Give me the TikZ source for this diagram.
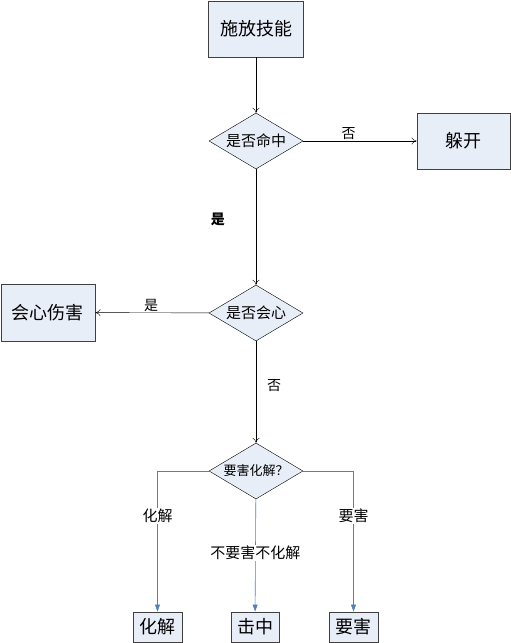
\documentclass[tikz,border=0pt]{standalone}
\usepackage{fontspec}
\newfontfamily\cjk{Noto Sans CJK SC}
\usetikzlibrary{shapes.geometric,arrows.meta,positioning}
\definecolor{boxfill}{HTML}{E8EEF7}
\definecolor{flowblue}{HTML}{4F81BD}

\begin{document}
\begin{tikzpicture}[
      x=1pt,y=-1pt,
      box/.style={draw=black!75,line width=0.9pt,fill=boxfill,inner sep=0pt,font=\cjk\fontsize{18}{18}\selectfont},
      smallbox/.style={box,minimum width=49pt,minimum height=30pt},
      test/.style={diamond,draw,thin,fill=boxfill,inner sep=0pt,aspect=1.68,minimum width=94pt,minimum height=56pt,font=\cjk\fontsize{15}{15}\selectfont},
      lab/.style={text=black,font=\cjk\fontsize{14}{14}\selectfont,inner sep=1pt},
      flow/.style={thin,-{To[length=5pt,width=7pt]}},
      bflow/.style={flowblue,semithick,-{Triangle[length=7pt,width=5pt]}},
      ]
      \useasboundingbox (0,0) rectangle (511,643);
      \def\mx{256}
      \def\lx{157.5}
      \def\rx{353.5}

      \node[box,minimum width=95pt,minimum height=56pt] (skill) at (\mx,29) {施放技能};
      \node[test] (hit) at (\mx,141) {是否命中};
      \node[box,minimum width=93pt,minimum height=56pt] (dodge) at (463.5,141) {躲开};
      \node[test] (crit) at (\mx,313) {是否会心};
      \node[box,minimum width=94pt,minimum height=57pt] (critdmg) at (48,312.5) {会心伤害};
      \node[test,font=\cjk\fontsize{13}{13}\selectfont] (pick) at (\mx,471) {要害化解？};
      \node[smallbox] (fix) at (\lx,627) {化解};
      \node[smallbox,minimum width=48pt] (plain) at (255,627) {击中};
      \node[smallbox] (vital) at (\rx,627) {要害};

      \draw[flow] (skill) -- (hit);
      \draw[flow] (hit) -- node[lab,above,pos=0.4] {否} (dodge);
      \draw[flow] (hit) -- node[lab,left=30pt,pos=0.43,font=\cjk\bfseries\fontsize{14}{14}\selectfont] {是} (crit);
      \draw[flow] (crit) -- node[lab,above,pos=0.51] {是} (critdmg);
      \draw[flow] (crit) -- node[lab,right=10pt,pos=0.44] {否} (pick);

      \draw[bflow] (pick.west) -| node[lab,fill=white,pos=0.66,font=\cjk\fontsize{15}{15}\selectfont] {化解} (fix.north);
      \draw[bflow] (pick) -- node[lab,fill=white,pos=0.48,font=\cjk\fontsize{15}{15}\selectfont] {不要害不化解} (plain);
      \draw[bflow] (pick.east) -| node[lab,fill=white,pos=0.66,font=\cjk\fontsize{15}{15}\selectfont] {要害} (vital.north);
    \end{tikzpicture}
\end{document}
